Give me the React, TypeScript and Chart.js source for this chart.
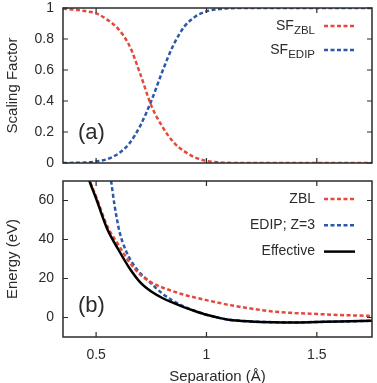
import { useEffect, useRef } from 'react';
import { Chart, registerables } from 'chart.js';

Chart.register(...registerables);

// ---- axis ranges / ticks ----
const sepMin = 0.35;
const sepMax = 1.75;
const sepTicks = [0.5, 1, 1.5];
const sfTicks = [0, 0.2, 0.4, 0.6, 0.8, 1];
const energyTicks = [0, 20, 40, 60];

// ---- panel (a): scaling factors ----
const sfSep = [0.35, 0.4, 0.45, 0.5, 0.55, 0.6, 0.65, 0.7, 0.75, 0.8, 0.85, 0.9, 0.95, 1.0, 1.05, 1.1, 1.2, 1.4, 1.75];
const sfZbl = [0.995, 0.99, 0.98, 0.965, 0.925, 0.865, 0.76, 0.575, 0.37, 0.235, 0.135, 0.075, 0.035, 0.013, 0.005, 0.001, 0, 0, 0];
const sfEdip = [0, 0.001, 0.003, 0.01, 0.025, 0.06, 0.125, 0.24, 0.4, 0.59, 0.76, 0.88, 0.945, 0.978, 0.992, 0.998, 1, 1, 1];

// ---- panel (b): energies ----
const energySep = [0.44, 0.47, 0.5, 0.55, 0.6, 0.65, 0.7, 0.75, 0.8, 0.85, 0.9, 0.95, 1.0, 1.05, 1.1, 1.2, 1.3, 1.4, 1.5, 1.6, 1.75];
const zblEnergy = [82, 70.5, 62, 47, 37.5, 28.5, 22, 18, 15.4, 13.4, 11.6, 10.2, 8.9, 7.7, 6.5, 4.6, 3.1, 2.3, 1.8, 1.3, 0.8];
const effEnergy = [81, 70, 61, 45.5, 35, 25.5, 18, 13.3, 10, 7.5, 5.2, 3.2, 1.4, 0, -1.1, -2.0, -2.4, -2.5, -2.3, -2.1, -1.7];
const edipSep = [0.555, 0.568, 0.583, 0.605, 0.636, 0.68, 0.74, 0.8, 0.85, 0.9, 0.95, 1.0, 1.05, 1.1, 1.2, 1.3, 1.4, 1.5, 1.6, 1.75];
const edipEnergy = [80, 70, 58, 44.5, 34, 25.4, 18.5, 12.3, 8.5, 5.5, 3.3, 1.4, 0, -1.1, -2.0, -2.4, -2.5, -2.3, -2.1, -1.7];

// ---- styles ----
const RED = '#e6483c';
const BLUE = '#2c58a8';
const BLACK = '#000000';
const TEXT = '#2b2b2b';
const FRAME = '#2b2b2b';
const FONT = "'Liberation Sans', Arial, Helvetica, sans-serif";
const DASH = [4, 2.5];

Chart.defaults.font.family = FONT;
Chart.defaults.color = TEXT;

const zip = (xs: number[], ys: number[]) => xs.map((x, i) => ({ x, y: ys[i] }));

const decorPlugin = {
  id: 'decor',
  afterDatasetsDraw(chart: any, _args: any, opts: any) {
    const { ctx, chartArea, scales } = chart;
    const { left, right, top, bottom } = chartArea;
    ctx.save();
    // frame
    ctx.strokeStyle = FRAME;
    ctx.lineWidth = 1.5;
    ctx.setLineDash([]);
    ctx.strokeRect(left, top, right - left, bottom - top);
    // inward ticks
    ctx.lineWidth = 1.2;
    const tl = 5;
    ctx.beginPath();
    scales.x.ticks.forEach((t: any) => {
      const px = scales.x.getPixelForValue(t.value);
      ctx.moveTo(px, bottom);
      ctx.lineTo(px, bottom - tl);
      ctx.moveTo(px, top);
      ctx.lineTo(px, top + tl);
    });
    scales.y.ticks.forEach((t: any) => {
      const py = scales.y.getPixelForValue(t.value);
      ctx.moveTo(left, py);
      ctx.lineTo(left + tl, py);
      ctx.moveTo(right, py);
      ctx.lineTo(right - tl, py);
    });
    ctx.stroke();

    // panel label
    ctx.fillStyle = TEXT;
    ctx.font = `22px ${FONT}`;
    ctx.textAlign = 'left';
    ctx.textBaseline = 'middle';
    ctx.fillText(opts.label, left + 15, top + 125);

    // legend
    (opts.items || []).forEach((it: any, i: number) => {
      const y = top + opts.rowStart + i * opts.rowGap;
      ctx.font = `14px ${FONT}`;
      const wMain = ctx.measureText(it.text).width;
      ctx.font = `11.5px ${FONT}`;
      const wSub = it.sub ? ctx.measureText(it.sub).width : 0;
      const x0 = right - 57 - wMain - wSub;
      ctx.fillStyle = TEXT;
      ctx.textAlign = 'left';
      ctx.textBaseline = 'middle';
      ctx.font = `14px ${FONT}`;
      ctx.fillText(it.text, x0, y);
      if (it.sub) {
        ctx.font = `11.5px ${FONT}`;
        ctx.fillText(it.sub, x0 + wMain, y + 4.5);
      }
      ctx.beginPath();
      ctx.strokeStyle = it.color;
      ctx.lineWidth = 2.5;
      ctx.setLineDash(it.dash || []);
      ctx.moveTo(right - 48, y);
      ctx.lineTo(right - 17, y);
      ctx.stroke();
      ctx.setLineDash([]);
    });
    ctx.restore();
  },
};

function setTicks(values: number[]) {
  return (s: any) => {
    s.ticks = values.map((v) => ({ value: v }));
  };
}

function xScale(showLabels: boolean, height: number) {
  return {
    type: 'linear',
    min: sepMin,
    max: sepMax,
    afterBuildTicks: setTicks(sepTicks),
    grid: { display: false, drawTicks: false },
    border: { display: false },
    ticks: {
      display: showLabels,
      padding: 10,
      font: { size: 14 },
      color: TEXT,
      callback: (v: any) => String(v),
    },
    title: {
      display: showLabels,
      text: 'Separation (Å)',
      font: { size: 15, lineHeight: 0.8 },
      color: TEXT,
      padding: { top: 0, bottom: 0 },
    },
    afterFit: (s: any) => {
      s.height = height;
      s.paddingLeft = 0;
      s.paddingRight = 0;
    },
  };
}

function yScale(min: number, max: number, ticks: number[], title: string) {
  return {
    type: 'linear',
    min,
    max,
    afterBuildTicks: setTicks(ticks),
    grid: { display: false, drawTicks: false },
    border: { display: false },
    ticks: {
      padding: 9,
      font: { size: 14, lineHeight: 1.1 },
      color: TEXT,
      callback: (v: any) => String(v),
    },
    title: {
      display: true,
      text: title,
      font: { size: 15 },
      color: TEXT,
      padding: { top: 4, bottom: 0 },
    },
    afterFit: (s: any) => {
      s.width = 63;
      s.paddingTop = 0;
      s.paddingBottom = 0;
    },
  };
}

function lineDs(label: string, data: any[], color: string, dash: number[], order: number) {
  return {
    label,
    data,
    borderColor: color,
    backgroundColor: color,
    borderWidth: 2.5,
    borderDash: dash,
    pointRadius: 0,
    fill: false,
    cubicInterpolationMode: 'monotone',
    order,
  };
}

export default function App() {
  const topRef = useRef<HTMLCanvasElement>(null);
  const botRef = useRef<HTMLCanvasElement>(null);

  useEffect(() => {
    document.body.style.margin = '0';
    const top = new Chart(topRef.current as HTMLCanvasElement, {
      type: 'line',
      data: {
        datasets: [
          lineDs('SF_ZBL', zip(sfSep, sfZbl), RED, DASH, 1),
          lineDs('SF_EDIP', zip(sfSep, sfEdip), BLUE, DASH, 2),
        ] as any,
      },
      options: {
        animation: false,
        responsive: false,
        devicePixelRatio: 1,
        layout: { padding: { top: 8, right: 5, left: 0, bottom: 0 } },
        scales: {
          x: xScale(false, 9) as any,
          y: yScale(0, 1, sfTicks, 'Scaling Factor') as any,
        },
        plugins: {
          legend: { display: false },
          tooltip: { enabled: false },
          decor: {
            label: '(a)',
            rowStart: 18,
            rowGap: 24,
            items: [
              { text: 'SF', sub: 'ZBL', color: RED, dash: DASH },
              { text: 'SF', sub: 'EDIP', color: BLUE, dash: DASH },
            ],
          },
        } as any,
      },
      plugins: [decorPlugin],
    });

    const bot = new Chart(botRef.current as HTMLCanvasElement, {
      type: 'line',
      data: {
        datasets: [
          lineDs('ZBL', zip(energySep, zblEnergy), RED, DASH, 1),
          lineDs('EDIP; Z=3', zip(edipSep, edipEnergy), BLUE, DASH, 2),
          lineDs('Effective', zip(energySep, effEnergy), BLACK, [], 0),
        ] as any,
      },
      options: {
        animation: false,
        responsive: false,
        devicePixelRatio: 1,
        layout: { padding: { top: 9, right: 5, left: 0, bottom: 0 } },
        scales: {
          x: xScale(true, 46) as any,
          y: yScale(-10, 70, energyTicks, 'Energy (eV)') as any,
        },
        plugins: {
          legend: { display: false },
          tooltip: { enabled: false },
          decor: {
            label: '(b)',
            rowStart: 18,
            rowGap: 26.3,
            items: [
              { text: 'ZBL', color: RED, dash: DASH },
              { text: 'EDIP; Z=3', color: BLUE, dash: DASH },
              { text: 'Effective', color: BLACK, dash: [] },
            ],
          },
        } as any,
      },
      plugins: [decorPlugin],
    });

    return () => {
      top.destroy();
      bot.destroy();
    };
  }, []);

  return (
    <div style={{ position: 'absolute', left: 0, top: 0, width: 377, height: 383, background: '#fff' }}>
      <canvas ref={topRef} width={377} height={172} style={{ display: 'block', width: 377, height: 172 }} />
      <canvas ref={botRef} width={377} height={211} style={{ display: 'block', width: 377, height: 211 }} />
    </div>
  );
}
